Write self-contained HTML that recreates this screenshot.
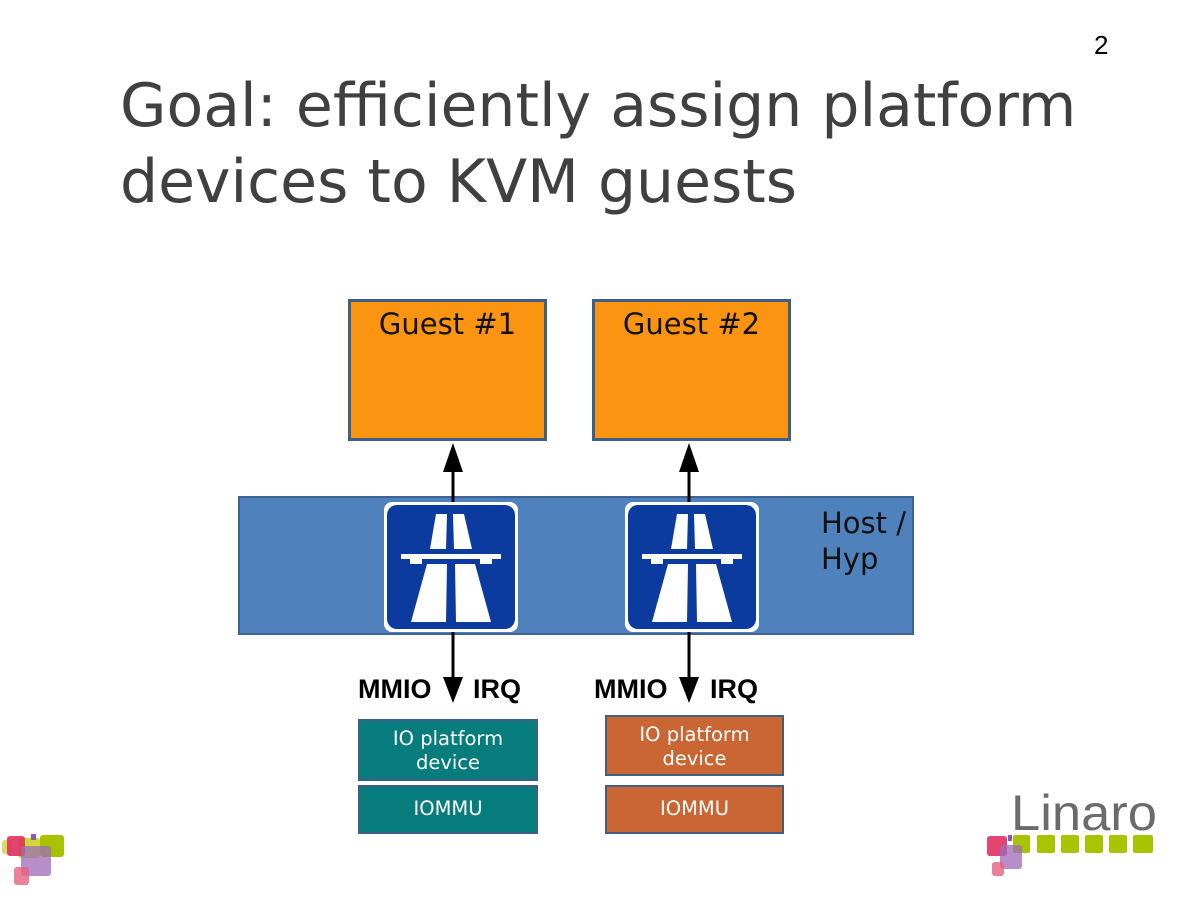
<!DOCTYPE html>
<html><head><style>
body{margin:0;width:1200px;height:900px;background:#fff;position:relative;overflow:hidden;font-family:"DejaVu Sans","Liberation Sans",sans-serif}
div{position:absolute;box-sizing:border-box}
.t{color:#404040;font-size:60px;left:120px;line-height:76px;top:68px;white-space:nowrap}
.g{background:#fb9511;border:3px solid #3e5f87;font-size:29px;color:#111;text-align:center;padding-top:5px}
.lbl{font-family:"Liberation Sans",sans-serif;font-weight:bold;font-size:27px;color:#000}
.box{border:2px solid #3e5f87;color:#fff;font-size:19.5px;text-align:center;line-height:24px}
.tl{background:#077c7c}.or{background:#c96633}
</style></head><body>
<div style="left:1094px;top:30px;font-family:'Liberation Sans';font-size:26px;color:#000">2</div>
<div class="t">Goal: efficiently assign platform<br>devices to KVM guests</div>
<div class="g" style="left:348px;top:299px;width:199px;height:142px">Guest #1</div>
<div class="g" style="left:592px;top:299px;width:199px;height:142px">Guest #2</div>
<div style="left:238px;top:496px;width:676px;height:139px;background:#4f81bd;border:2px solid #3c6593"></div>
<div style="left:821px;top:505px;font-size:29px;line-height:36px;color:#111">Host /<br>Hyp</div>
<svg width="1200" height="900" style="position:absolute;left:0;top:0">
<defs><g id="sign">
<rect x="0" y="0" width="134" height="130" rx="8" fill="#fff"/>
<rect x="3" y="3" width="128" height="124" rx="10" fill="#0b3b9f"/>
<polygon points="52,12 63,12 62,47 46,47" fill="#fff"/>
<polygon points="69,12 80,12 88,47 70,47" fill="#fff"/>
<rect x="17" y="52" width="100" height="5" fill="#fff"/>
<rect x="26" y="56" width="12" height="6" fill="#fff"/>
<rect x="96" y="56" width="12" height="6" fill="#fff"/>
<polygon points="43,62 63,62 62,120 27,120" fill="#fff"/>
<polygon points="71,62 91,62 107,120 72,120" fill="#fff"/>
</g></defs>
<use href="#sign" x="384" y="502"/>
<use href="#sign" x="625" y="502"/>
<g stroke="#000" stroke-width="3">
<line x1="453" y1="470" x2="453" y2="502"/><line x1="689" y1="470" x2="689" y2="502"/>
<line x1="453" y1="632" x2="453" y2="680"/><line x1="689" y1="632" x2="689" y2="680"/>
</g>
<polygon points="443,472 463,472 453,443" fill="#000"/>
<polygon points="679,472 699,472 689,443" fill="#000"/>
<polygon points="443,677 463,677 453,703" fill="#000"/>
<polygon points="679,677 699,677 689,703" fill="#000"/>
<rect x="2" y="840" width="10" height="14" rx="3" fill="#d7dc60"/>
<rect x="18" y="838" width="22" height="20" rx="3" fill="#c3d000" opacity=".8"/>
<rect x="40" y="835" width="24" height="22" rx="3" fill="#a8c200"/>
<rect x="7" y="836" width="18" height="20" rx="3" fill="#e03060" opacity=".9"/>
<rect x="31" y="834" width="5" height="6" fill="#8a5aa8"/>
<rect x="21" y="846" width="30" height="30" rx="3" fill="#9d6ab8" opacity=".75"/>
<rect x="14" y="867" width="15" height="18" rx="3" fill="#e86080" opacity=".8"/>
<text x="1011" y="830" font-family="Liberation Sans" font-size="50" fill="#6b6b6b" textLength="146" lengthAdjust="spacingAndGlyphs">Linaro</text>
<g fill="#a8c400">
<rect x="1013" y="835" width="17" height="18" rx="2"/><rect x="1037" y="835" width="18" height="18" rx="2"/>
<rect x="1061" y="835" width="18" height="18" rx="2"/><rect x="1085" y="835" width="18" height="18" rx="2"/>
<rect x="1109" y="835" width="18" height="18" rx="2"/><rect x="1133" y="835" width="20" height="18" rx="2"/>
</g>
<rect x="987" y="836" width="20" height="20" rx="3" fill="#e03060" opacity=".9"/>
<rect x="1008" y="835" width="4" height="6" fill="#8a5aa8"/>
<rect x="1000" y="845" width="22" height="24" rx="3" fill="#9d6ab8" opacity=".75"/>
<rect x="992" y="862" width="12" height="14" rx="3" fill="#e86080" opacity=".8"/>
</svg>
<div class="lbl" style="left:358px;top:674px">MMIO</div>
<div class="lbl" style="left:473px;top:674px">IRQ</div>
<div class="lbl" style="left:594px;top:674px">MMIO</div>
<div class="lbl" style="left:710px;top:674px">IRQ</div>
<div class="box tl" style="left:358px;top:719px;width:180px;height:62px;padding-top:6px">IO platform<br>device</div>
<div class="box tl" style="left:358px;top:785px;width:180px;height:49px;padding-top:10px">IOMMU</div>
<div class="box or" style="left:605px;top:715px;width:179px;height:61px;padding-top:6px">IO platform<br>device</div>
<div class="box or" style="left:605px;top:785px;width:179px;height:49px;padding-top:10px">IOMMU</div>
</body></html>
